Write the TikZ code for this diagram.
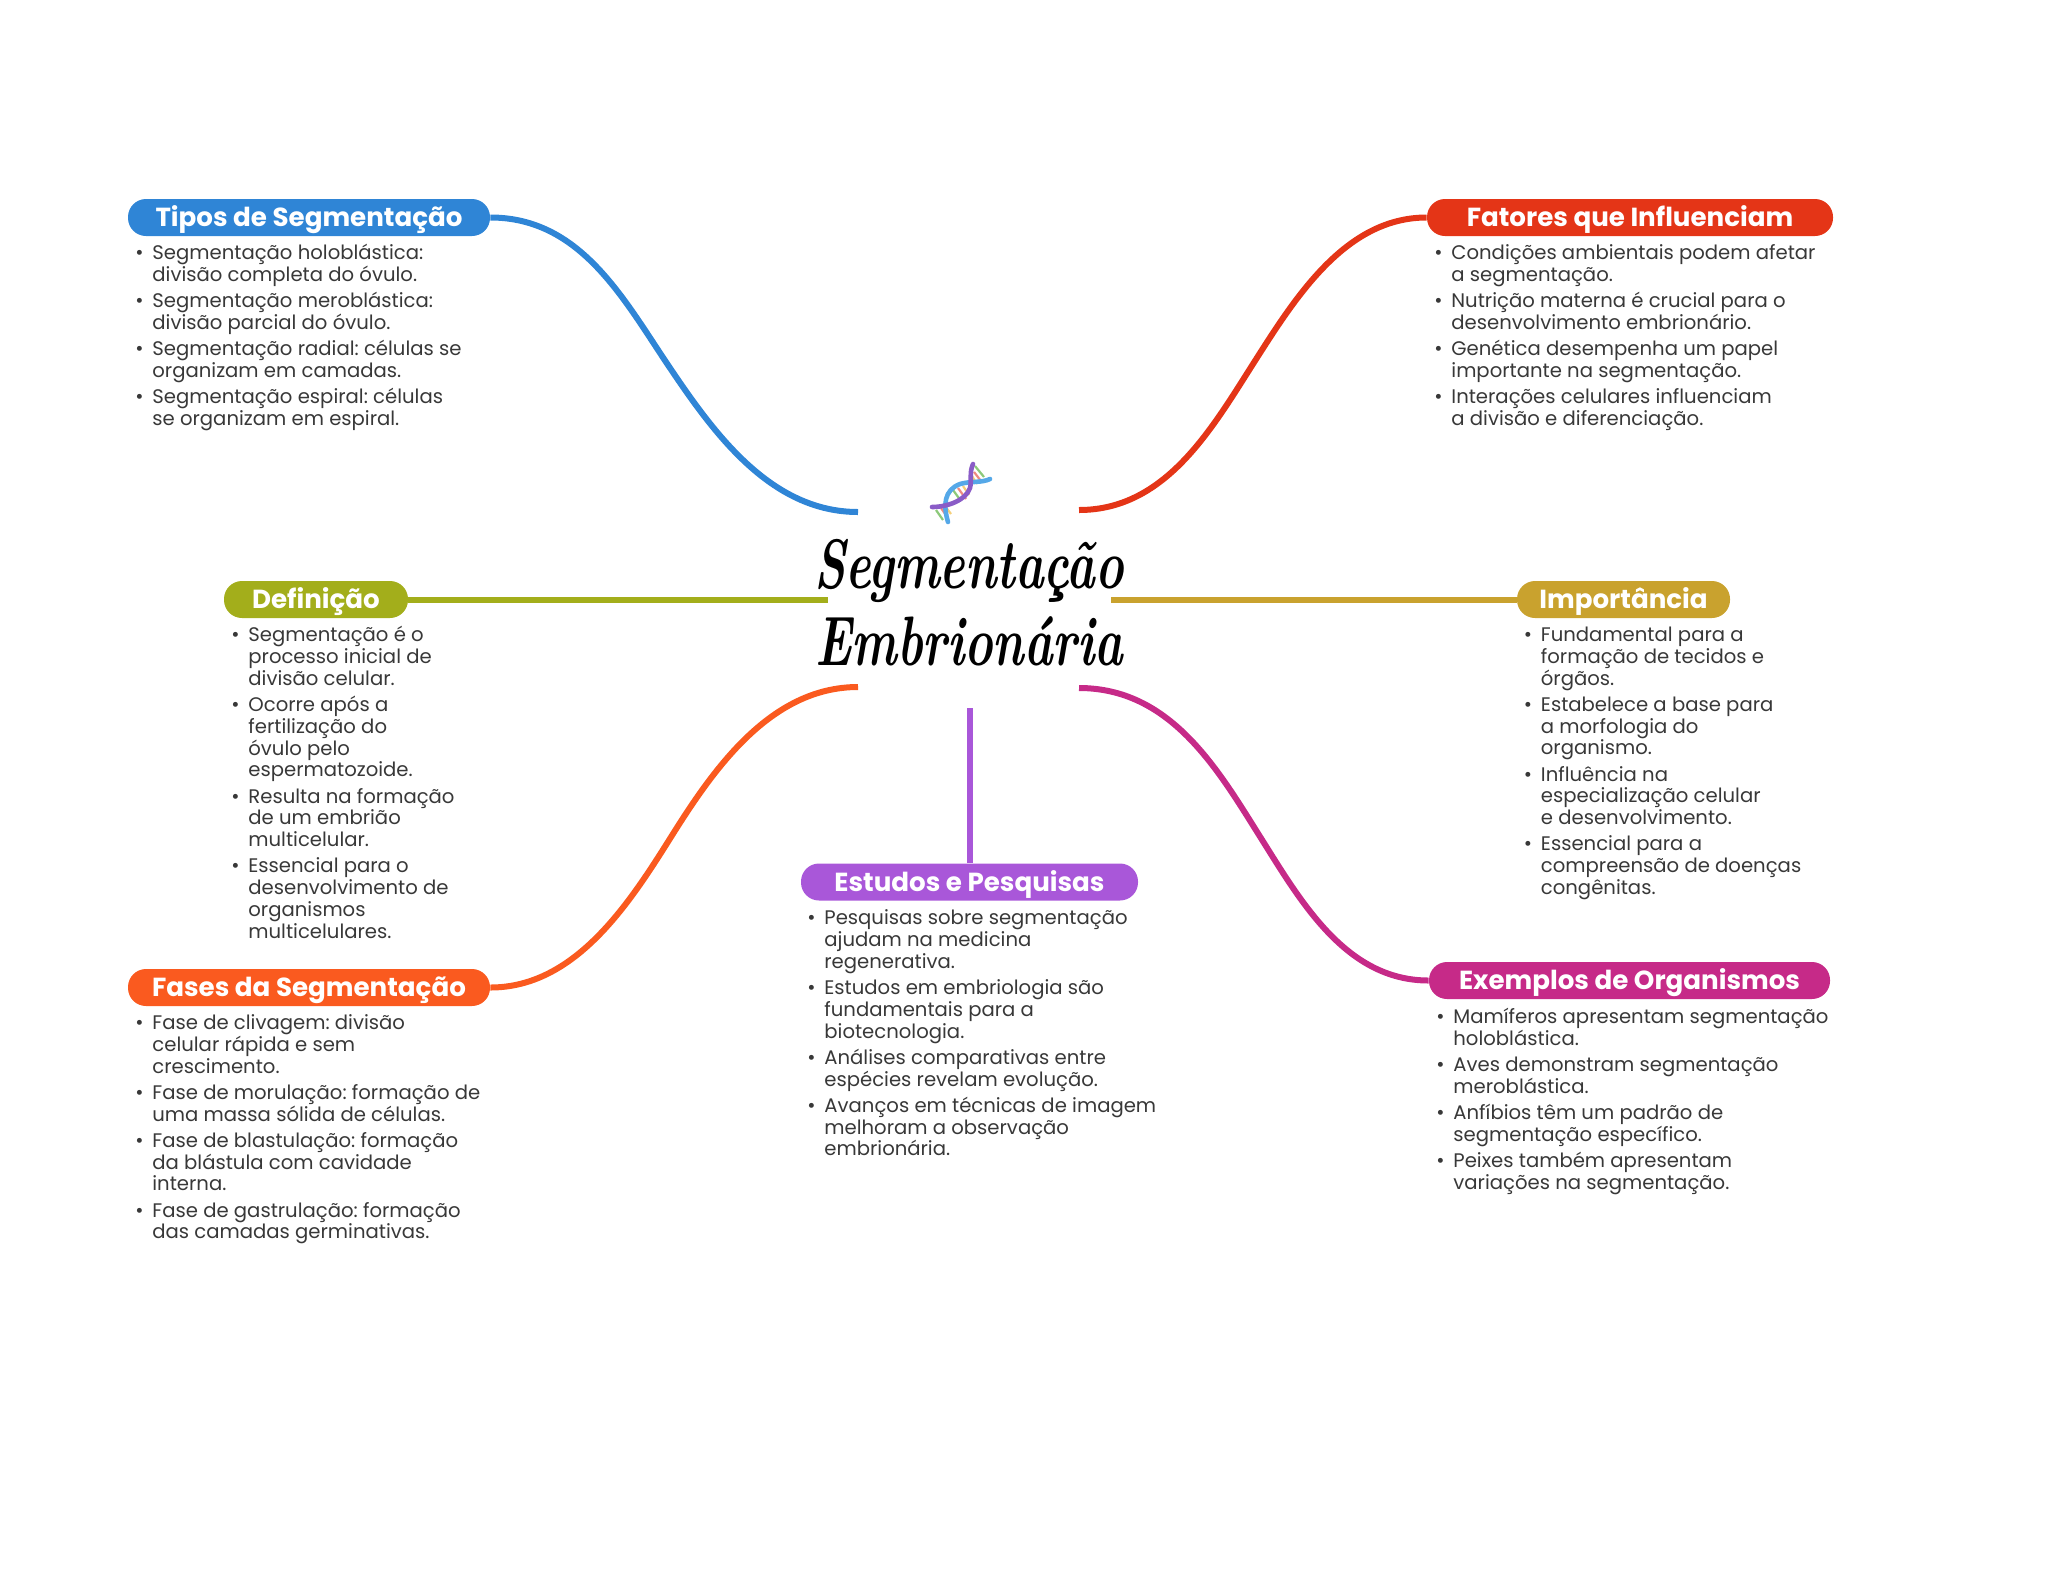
\documentclass[tikz,border=0pt]{standalone}
\usepackage{fontspec}
\usepackage{graphicx}
\setsansfont{Poppins}
\definecolor{cblue}{HTML}{2F85D6}
\definecolor{cred}{HTML}{E43517}
\definecolor{colive}{HTML}{A3AE1B}
\definecolor{cgold}{HTML}{C9A22E}
\definecolor{corange}{HTML}{FA5A1F}
\definecolor{cpurple}{HTML}{A957D9}
\definecolor{cmag}{HTML}{C62A88}
\definecolor{ctext}{HTML}{383838}
\definecolor{dnagreen}{HTML}{8CC97A}
\definecolor{dnared}{HTML}{EE8A7E}
\definecolor{dnayellow}{HTML}{F5CF7A}
\definecolor{dnapurple}{HTML}{8A5CC7}
\definecolor{dnablue}{HTML}{55A8E8}
\newcommand{\blt}{\leavevmode\strut\llap{{\fontsize{10}{10}\selectfont •}\hspace{4.4pt}}}
\newcommand{\listfont}{\sffamily\fontsize{9.82}{10.9}\selectfont\lineskiplimit=-30pt\relax\frenchspacing}
\tikzset{
  x=0.5pt,y=-0.5pt,
  pill/.style={fill=#1,rounded corners=9pt,inner sep=0pt,text=white,minimum height=18.5pt,
    text height=10pt,text depth=1pt,
    font=\sffamily\bfseries\fontsize{13.07}{14}\selectfont},
  blist/.style={inner sep=0pt,anchor=north west,align=left,text=ctext,font=\listfont},
  link/.style={draw=#1,line width=3pt},
  rung/.style={line width=1.1pt},
  strand/.style={line width=2.3pt,draw=#1,line cap=round}
}
\newcommand{\igap}{\\[2.2pt]}
\begin{document}
\begin{tikzpicture}
\useasboundingbox (0,0) rectangle (2048,1569);
% central title
\node[font=\rmfamily\bfseries\itshape\fontsize{35}{38.5}\selectfont,align=center,inner sep=0pt,text=black] (title) at (969,603) {\scalebox{0.69}[1]{Segmentação}\\\scalebox{0.69}[1]{Embrionária}};
% free ends
\coordinate (eBlue) at (858,512);
\coordinate (eRed) at (1079,510);
\coordinate (eOlive) at (828,599.5);
\coordinate (eGold) at (1111,599.5);
\coordinate (eOrange) at (858,687);
\coordinate (eMag) at (1079,688);
\coordinate (ePurple) at (969.5,708);
% headers
\node[pill=cblue,minimum width=181pt] (tipos) at (309,217.5) {Tipos de Segmentação};
\node[pill=cred,minimum width=203pt] (fatores) at (1630,217.5) {Fatores que Influenciam};
\node[pill=colive,minimum width=92pt] (def) at (316,599.5) {Definição};
\node[pill=cgold,minimum width=106.5pt] (imp) at (1623.5,599.5) {Importância};
\node[pill=corange,minimum width=181pt] (fases) at (309,987.5) {Fases da Segmentação};
\node[pill=cpurple,minimum width=168.5pt] (est) at (969.5,882) {Estudos e Pesquisas};
\node[pill=cmag,minimum width=200.5pt] (ex) at (1629.5,980.5) {Exemplos de Organismos};
% connectors
\draw[link=cblue] (tipos.east) .. controls (580,217.5) and (623,298) .. (668,365) .. controls (713,432) and (770,512) .. (eBlue);
\draw[link=cred] (eRed) .. controls (1165,510) and (1211,430) .. (1253,364) .. controls (1295,298) and (1345,217.5) .. (fatores.west);
\draw[link=colive] (def.east) -- (eOlive);
\draw[link=cgold] (imp.west) -- (eGold);
\draw[link=corange] (fases.east) .. controls (575,987.5) and (629,904) .. (671,837) .. controls (713,770) and (770,687) .. (eOrange);
\draw[link=cmag] (eMag) .. controls (1170,688) and (1217,768) .. (1259,835) .. controls (1300,900) and (1345,980.5) .. (ex.west);
\draw[link=cpurple] (ePurple) -- (est.north -| ePurple);
% DNA icon
\draw[rung,draw=dnagreen] (936,510) -- (943,520);
\draw[rung,draw=dnared] (941,508) -- (948,518);
\draw[rung,draw=dnayellow] (945,506) -- (951,514);
\draw[rung,draw=dnagreen] (953,490) -- (961,501);
\draw[rung,draw=dnared] (958,488) -- (966,499);
\draw[rung,draw=dnayellow] (963,486) -- (969,495);
\draw[rung,draw=dnagreen] (975,466) -- (984,477);
\draw[rung,draw=dnared] (974,472) -- (981,481);
\draw[rung,draw=dnayellow] (972,476) -- (977,484);
\draw[strand=dnablue] (948,522) .. controls (943,505) and (944,490) .. (960,484) .. controls (970,481) and (982,483) .. (990,479);
\draw[strand=dnapurple] (932,507) .. controls (948,507) and (966,500) .. (970,488) .. controls (972,480) and (969,473) .. (973,464);
% lists
\node[blist] (l1) at (152,243.7) {\blt Segmentação holoblástica:\\divisão completa do óvulo.\igap\blt Segmentação meroblástica:\\divisão parcial do óvulo.\igap\blt Segmentação radial: células se\\organizam em camadas.\igap\blt Segmentação espiral: células\\se organizam em espiral.};
\node[blist] (l2) at (1451,243.7) {\blt Condições ambientais podem afetar\\a segmentação.\igap\blt Nutrição materna é crucial para o\\desenvolvimento embrionário.\igap\blt Genética desempenha um papel\\importante na segmentação.\igap\blt Interações celulares influenciam\\a divisão e diferenciação.};
\node[blist] (l3) at (248,625.9) {\blt Segmentação é o\\processo inicial de\\divisão celular.\igap\blt Ocorre após a\\fertilização do\\óvulo pelo\\espermatozoide.\igap\blt Resulta na formação\\de um embrião\\multicelular.\igap\blt Essencial para o\\desenvolvimento de\\organismos\\multicelulares.};
\node[blist] (l4) at (1540.5,625.9) {\blt Fundamental para a\\formação de tecidos e\\órgãos.\igap\blt Estabelece a base para\\a morfologia do\\organismo.\igap\blt Influência na\\especialização celular\\e desenvolvimento.\igap\blt Essencial para a\\compreensão de doenças\\congênitas.};
\node[blist] (l5) at (152,1013.9) {\blt Fase de clivagem: divisão\\celular rápida e sem\\crescimento.\igap\blt Fase de morulação: formação de\\uma massa sólida de células.\igap\blt Fase de blastulação: formação\\da blástula com cavidade\\interna.\igap\blt Fase de gastrulação: formação\\das camadas germinativas.};
\node[blist] (l6) at (824,909) {\blt Pesquisas sobre segmentação\\ajudam na medicina\\regenerativa.\igap\blt Estudos em embriologia são\\fundamentais para a\\biotecnologia.\igap\blt Análises comparativas entre\\espécies revelam evolução.\igap\blt Avanços em técnicas de imagem\\melhoram a observação\\embrionária.};
\node[blist] (l7) at (1453,1007.5) {\blt Mamíferos apresentam segmentação\\holoblástica.\igap\blt Aves demonstram segmentação\\meroblástica.\igap\blt Anfíbios têm um padrão de\\segmentação específico.\igap\blt Peixes também apresentam\\variações na segmentação.};
\end{tikzpicture}
\end{document}
